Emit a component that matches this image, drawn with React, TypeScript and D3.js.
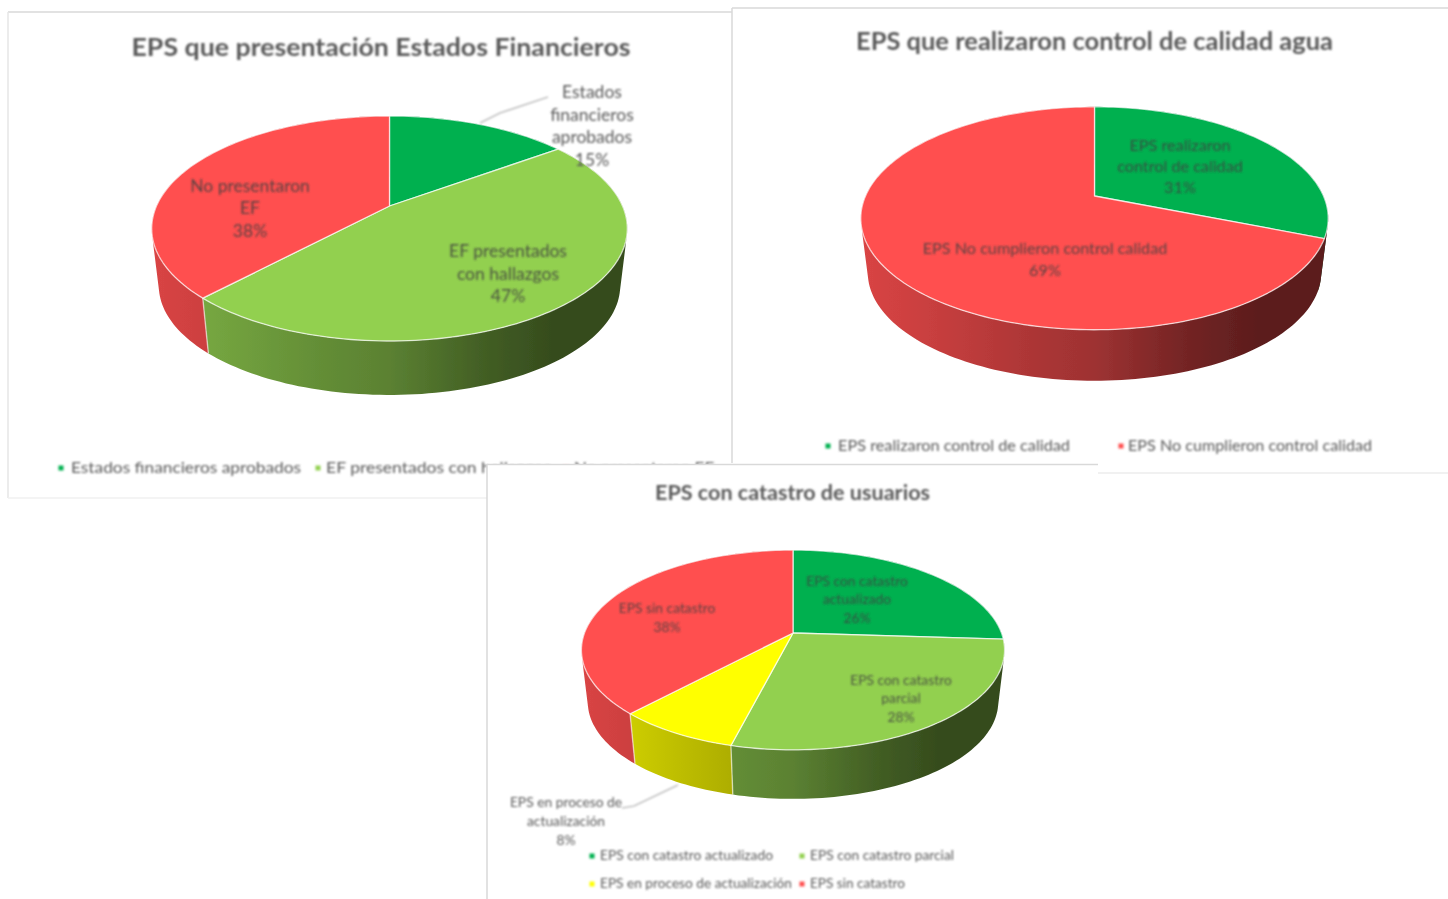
import { useEffect, useRef } from 'react';
import * as d3 from 'd3';

// values
const financeLabels = ['Estados financieros aprobados', 'EF presentados con hallazgos', 'No presentaron EF'];
const financeValues = [15, 47, 38];
const financeColors = ['#00b050', '#92d050', '#ff5050'];

const waterLabels = ['EPS realizaron control de calidad', 'EPS No cumplieron control calidad'];
const waterValues = [31, 69];
const waterColors = ['#00b050', '#ff5050'];

const registryLabels = ['EPS con catastro actualizado', 'EPS con catastro parcial', 'EPS en proceso de actualización', 'EPS sin catastro'];
const registryValues = [26, 28, 8, 38];
const registryColors = ['#00b050', '#92d050', '#ffff00', '#ff5050'];

// layout of each chart, apart from the data
const financeLayout = {
  title: 'EPS que presentación Estados Financieros',
  titleX: 381, titleY: 49.5, titleSize: 24, titleWidth: 499,
  cx: 389.5, cy: 206, rx: 233, ry: 108, k: 0.2, depth: 58, baseScale: 0.97, wallBack: 0,
  sliceText: [
    { x: 592, y: 92, gap: 22.8, lines: ['Estados', 'financieros', 'aprobados'], outside: true },
    { x: 508, y: 251, gap: 22.8, lines: ['EF presentados', 'con hallazgos'] },
    { x: 250, y: 186, gap: 22.5, lines: ['No presentaron', 'EF'] },
  ],
  labelSize: 17.5,
  leader: [[480, 123], [500, 113], [548, 97]],
  legendSize: 15.5,
  legend: [
    { x: 61, y: 468, textX: 71, width: 230 },
    { x: 318, y: 468, textX: 326, width: 225 },
    { x: 566, y: 468, textX: 574, width: 140 },
  ],
};

const waterLayout = {
  title: 'EPS que realizaron control de calidad agua',
  titleX: 1094.5, titleY: 43.5, titleSize: 24, titleWidth: 477,
  cx: 1094.5, cy: 196, rx: 229, ry: 107, k: 0.2, depth: 55, baseScale: 0.97, wallBack: 0.25,
  sliceText: [
    { x: 1180, y: 146, gap: 21, lines: ['EPS realizaron', 'control de calidad'] },
    { x: 1045, y: 249, gap: 22, lines: ['EPS No cumplieron control calidad'] },
  ],
  labelSize: 16.2,
  leader: null,
  legendSize: 15,
  legend: [
    { x: 828, y: 446, textX: 838, width: 232 },
    { x: 1121, y: 446, textX: 1128, width: 244 },
  ],
};

const registryLayout = {
  title: 'EPS con catastro de usuarios',
  titleX: 792.5, titleY: 495, titleSize: 20, titleWidth: 275,
  cx: 793, cy: 633, rx: 208.5, ry: 97, k: 0.17, depth: 52.5, baseScale: 0.97, wallBack: 0,
  sliceText: [
    { x: 857, y: 581, gap: 18.5, lines: ['EPS con catastro', 'actualizado'] },
    { x: 901, y: 680, gap: 18.5, lines: ['EPS con catastro', 'parcial'] },
    { x: 566, y: 802, gap: 19, lines: ['EPS en proceso de', 'actualización'], outside: true },
    { x: 667, y: 608, gap: 19, lines: ['EPS sin catastro'] },
  ],
  labelSize: 13.8,
  leader: [[622, 808], [634, 806], [678, 785]],
  legendSize: 13,
  legend: [
    { x: 592, y: 856, textX: 600, width: 173 },
    { x: 802, y: 856, textX: 810, width: 144 },
    { x: 592, y: 884, textX: 600, width: 192 },
    { x: 802, y: 884, textX: 810, width: 95 },
  ],
};

const FONT = 'Lato, "Open Sans", sans-serif';
const GRAY = '#595959';
const BORDER = '#d9d9d9';

// how much the side wall of the pie is darkened from left to right
const wallOffsets = [0, 0.12, 0.36, 0.5, 0.7, 0.85, 1];
const wallShade = [0.85, 0.8, 0.68, 0.62, 0.45, 0.36, 0.36];

const drawChart = (root, id, layout, labels, values, colors) => {
  const { cx, cy, rx, ry, k, depth, baseScale, wallBack } = layout;
  const g = root.append('g');
  const defs = root.append('defs');

  // d3 angles go round a flat disc, then a simple perspective puts them on screen
  const project = (angle, scale, dy) => {
    const u = Math.sin(angle);
    const v = -Math.cos(angle);
    const w = 1 - k * v;
    return [cx + (scale * rx * u) / w, cy + dy + (scale * ry * v) / w];
  };
  const arcPoints = (a0, a1, scale, dy) => {
    const n = Math.max(2, Math.ceil((a1 - a0) * 40));
    const t = d3.scaleLinear().domain([0, n]).range([a0, a1]);
    return d3.range(n + 1).map(i => project(t(i), scale, dy));
  };

  const pie = d3.pie().sort(null).startAngle(0).endAngle(2 * Math.PI);
  const slices = pie(values);
  const line = d3.line();
  const halfWidth = rx / Math.sqrt(1 - k * k);

  // one horizontal gradient per colour, across the whole pie
  colors.forEach((c, i) => {
    const grad = defs.append('linearGradient')
      .attr('id', `${id}-wall-${i}`)
      .attr('gradientUnits', 'userSpaceOnUse')
      .attr('x1', cx - halfWidth).attr('x2', cx + halfWidth)
      .attr('y1', 0).attr('y2', 0);
    wallOffsets.forEach((o, j) => {
      const base = d3.rgb(c);
      grad.append('stop')
        .attr('offset', o)
        .attr('stop-color', d3.rgb(base.r * wallShade[j], base.g * wallShade[j], base.b * wallShade[j]).formatHex());
    });
  });

  const pieGroup = g.append('g').attr('filter', 'url(#blur-pie)');

  // side walls: quads in one path, so the outline runs straight from top rim to base
  slices.forEach((s, i) => {
    const from = i === 0 ? s.startAngle : s.startAngle - wallBack;
    const top = arcPoints(from, s.endAngle, 1, 0);
    const bottom = arcPoints(from, s.endAngle, baseScale, depth);
    const quads = d3.pairs(d3.range(top.length)).map(([a, b]) => {
      const quad = [top[a], top[b], bottom[b], bottom[a]];
      // same winding everywhere, or overlapping quads cancel out
      return line(d3.polygonArea(quad) < 0 ? quad.reverse() : quad) + 'Z';
    });
    pieGroup.append('path')
      .attr('d', quads.join(''))
      .attr('fill', `url(#${id}-wall-${i})`);
  });

  // pale seams between the walls, only at the front
  slices.forEach(s => {
    if (-Math.cos(s.startAngle) <= 0.5) return;
    pieGroup.append('line')
      .attr('x1', project(s.startAngle, 1, 0)[0]).attr('y1', project(s.startAngle, 1, 0)[1])
      .attr('x2', project(s.startAngle, baseScale, depth)[0]).attr('y2', project(s.startAngle, baseScale, depth)[1])
      .attr('stroke', '#fff').attr('stroke-opacity', 0.55).attr('stroke-width', 1.4);
  });

  // top of the pie
  slices.forEach((s, i) => {
    const pts = [[cx, cy], ...arcPoints(s.startAngle, s.endAngle, 1, 0)];
    pieGroup.append('path')
      .attr('d', line(pts) + 'Z')
      .attr('fill', colors[i])
      .attr('stroke', '#fff')
      .attr('stroke-opacity', 0.7)
      .attr('stroke-width', 1.3)
      .attr('stroke-linejoin', 'round');
  });

  // title
  g.append('text')
    .attr('x', layout.titleX)
    .attr('y', layout.titleY)
    .attr('dominant-baseline', 'middle')
    .attr('text-anchor', 'middle')
    .attr('textLength', layout.titleWidth)
    .attr('lengthAdjust', 'spacingAndGlyphs')
    .attr('filter', 'url(#blur-title)')
    .style('font-family', FONT)
    .style('font-weight', 700)
    .style('font-size', `${layout.titleSize}px`)
    .style('fill', GRAY)
    .text(layout.title);

  // leader line
  if (layout.leader) {
    g.append('path')
      .attr('d', line(layout.leader))
      .attr('fill', 'none')
      .attr('stroke', '#a6a6a6')
      .attr('stroke-width', 1.2)
      .attr('filter', 'url(#blur-text)');
  }

  // slice labels: name lines, then the percentage
  layout.sliceText.forEach((t, i) => {
    const rows = [...t.lines, `${values[i]}%`];
    const text = g.append('text')
      .attr('filter', 'url(#blur-text)')
      .attr('text-anchor', 'middle')
      .style('font-family', FONT)
      .style('font-size', `${layout.labelSize}px`)
      .style('fill', t.outside ? GRAY : '#404040')
      .style('fill-opacity', t.outside ? 1 : 0.85);
    rows.forEach((row, r) => {
      text.append('tspan')
        .attr('x', t.x)
        .attr('y', t.y + r * t.gap + layout.labelSize * 0.33)
        .text(row);
    });
  });

  // legend
  const legend = g.append('g').attr('filter', 'url(#blur-text)');
  layout.legend.forEach((l, i) => {
    legend.append('rect')
      .attr('x', l.x - 2.5).attr('y', l.y - 2.5)
      .attr('width', 5).attr('height', 5)
      .attr('fill', colors[i]);
    legend.append('text')
      .attr('x', l.textX)
      .attr('y', l.y + layout.legendSize * 0.33)
      .attr('textLength', l.width)
      .attr('lengthAdjust', 'spacingAndGlyphs')
      .style('font-family', FONT)
      .style('font-size', `${layout.legendSize}px`)
      .style('fill', GRAY)
      .text(labels[i]);
  });
};

const App = () => {
  const svgRef = useRef();

  useEffect(() => {
    const svg = d3.select(svgRef.current);
    svg.selectAll('*').remove();

    const defs = svg.append('defs');
    [['blur-pie', 0.6], ['blur-title', 0.8], ['blur-text', 1]].forEach(([name, dev]) => {
      defs.append('filter')
        .attr('id', name)
        .attr('x', '-10%').attr('y', '-50%')
        .attr('width', '120%').attr('height', '200%')
        .append('feGaussianBlur')
        .attr('stdDeviation', dev);
    });

    const rule = (x1, y1, x2, y2, color = BORDER) =>
      svg.append('line')
        .attr('x1', x1).attr('y1', y1).attr('x2', x2).attr('y2', y2)
        .attr('stroke', color).attr('stroke-width', 1.5);

    svg.append('rect').attr('width', 1448).attr('height', 899).attr('fill', '#fff');

    // panel 1, its legend runs under the other two panels
    rule(8, 12, 732, 12);
    rule(8, 12, 8, 498, '#e6e6e6');
    rule(8, 498, 487, 498, '#f0f0f0');
    drawChart(svg, 'finance', financeLayout, financeLabels, financeValues, financeColors);

    // panel 2
    svg.append('rect').attr('x', 732).attr('y', 8).attr('width', 716).attr('height', 456).attr('fill', '#fff');
    rule(732, 8, 1448, 8);
    rule(732, 8, 732, 463);
    rule(1098, 473, 1448, 473, '#ececec');
    drawChart(svg, 'water', waterLayout, waterLabels, waterValues, waterColors);

    // panel 3
    svg.append('rect').attr('x', 487).attr('y', 464).attr('width', 611).attr('height', 435).attr('fill', '#fff');
    rule(487, 464.5, 1098, 464.5);
    rule(487, 464, 487, 899);
    drawChart(svg, 'registry', registryLayout, registryLabels, registryValues, registryColors);
  }, []);

  return (
    <svg
      ref={svgRef}
      width={1448}
      height={899}
      style={{ position: 'absolute', left: 0, top: 0, display: 'block' }}
    />
  );
};

export default App;
